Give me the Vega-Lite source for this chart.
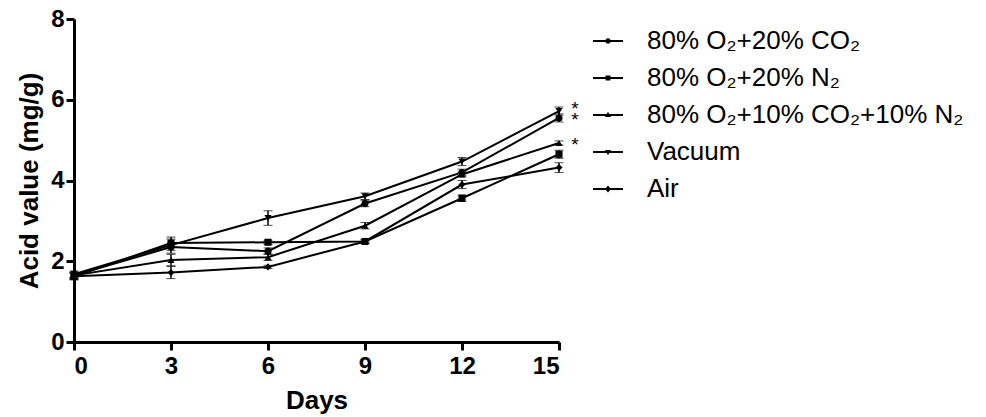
{
  "$schema": "https://vega.github.io/schema/vega-lite/v6.json",
  "autosize": "none",
  "width": 485,
  "height": 323,
  "padding": {"left": 74, "top": 19, "right": 427, "bottom": 75},
  "background": "white",
  "config": {
    "font": "Liberation Sans",
    "view": {"stroke": null},
    "axis": {
      "grid": false,
      "domainColor": "black",
      "domainWidth": 3,
      "tickColor": "black",
      "tickWidth": 3,
      "tickSize": 8,
      "labelColor": "black",
      "labelFont": "Liberation Sans",
      "labelFontWeight": "bold",
      "labelFontSize": 24,
      "titleColor": "black",
      "titleFont": "Liberation Sans",
      "titleFontWeight": "bold",
      "titleFontSize": 26
    }
  },
  "datasets": {
    "acid": [
      {"group": "80% O₂+20% CO₂", "day": 0, "value": 1.65, "err": 0.08},
      {"group": "80% O₂+20% CO₂", "day": 3, "value": 2.35, "err": 0.08},
      {"group": "80% O₂+20% CO₂", "day": 6, "value": 2.25, "err": 0.08},
      {"group": "80% O₂+20% CO₂", "day": 9, "value": 3.43, "err": 0.08},
      {"group": "80% O₂+20% CO₂", "day": 12, "value": 4.2, "err": 0.08},
      {"group": "80% O₂+20% CO₂", "day": 15, "value": 5.55, "err": 0.1},
      {"group": "80% O₂+20% N₂", "day": 0, "value": 1.62, "err": 0.08},
      {"group": "80% O₂+20% N₂", "day": 3, "value": 2.45, "err": 0.1},
      {"group": "80% O₂+20% N₂", "day": 6, "value": 2.47, "err": 0.05},
      {"group": "80% O₂+20% N₂", "day": 9, "value": 2.49, "err": 0.04},
      {"group": "80% O₂+20% N₂", "day": 12, "value": 3.56, "err": 0.08},
      {"group": "80% O₂+20% N₂", "day": 15, "value": 4.65, "err": 0.1},
      {"group": "80% O₂+10% CO₂+10% N₂", "day": 0, "value": 1.65, "err": 0.06},
      {"group": "80% O₂+10% CO₂+10% N₂", "day": 3, "value": 2.03, "err": 0.14},
      {"group": "80% O₂+10% CO₂+10% N₂", "day": 6, "value": 2.1, "err": 0.08},
      {"group": "80% O₂+10% CO₂+10% N₂", "day": 9, "value": 2.88, "err": 0.08},
      {"group": "80% O₂+10% CO₂+10% N₂", "day": 12, "value": 4.15, "err": 0.06},
      {"group": "80% O₂+10% CO₂+10% N₂", "day": 15, "value": 4.93, "err": 0.05},
      {"group": "Vacuum", "day": 0, "value": 1.68, "err": 0.08},
      {"group": "Vacuum", "day": 3, "value": 2.4, "err": 0.2},
      {"group": "Vacuum", "day": 6, "value": 3.07, "err": 0.18},
      {"group": "Vacuum", "day": 9, "value": 3.61, "err": 0.08},
      {"group": "Vacuum", "day": 12, "value": 4.47, "err": 0.1},
      {"group": "Vacuum", "day": 15, "value": 5.72, "err": 0.1},
      {"group": "Air", "day": 0, "value": 1.63, "err": 0.08},
      {"group": "Air", "day": 3, "value": 1.72, "err": 0.15},
      {"group": "Air", "day": 6, "value": 1.86, "err": 0.04},
      {"group": "Air", "day": 9, "value": 2.49, "err": 0.04},
      {"group": "Air", "day": 12, "value": 3.9, "err": 0.1},
      {"group": "Air", "day": 15, "value": 4.32, "err": 0.12}
    ],
    "stars": [
      {"day": 15, "value": 5.84, "label": "*"},
      {"day": 15, "value": 5.57, "label": "*"},
      {"day": 15, "value": 4.95, "label": "*"}
    ]
  },
  "data": {"name": "acid"},
  "encoding": {
    "x": {
      "field": "day", "type": "quantitative",
      "scale": {"domain": [0, 15], "nice": false, "zero": false},
      "axis": {"values": [0, 3, 6, 9, 12, 15], "title": "Days", "labelPadding": 4, "titlePadding": 9}
    }
  },
  "layer": [
    {
      "mark": {"type": "errorbar", "color": "black", "ticks": {"size": 9, "strokeWidth": 1.5, "color": "black"}, "rule": {"strokeWidth": 1.5, "color": "black"}},
      "encoding": {
        "y": {"field": "value", "type": "quantitative", "scale": {"domain": [0, 8], "nice": false},
              "axis": {"values": [0, 2, 4, 6, 8], "title": "Acid value (mg/g)", "labelPadding": 2, "titlePadding": 8}},
        "yError": {"field": "err"},
        "detail": {"field": "group"}
      }
    },
    {
      "mark": {"type": "line", "color": "black", "strokeWidth": 2},
      "encoding": {
        "y": {"field": "value", "type": "quantitative"},
        "detail": {"field": "group"}
      }
    },
    {
      "mark": {"type": "point", "filled": true, "color": "black", "opacity": 1, "size": 50},
      "encoding": {
        "y": {"field": "value", "type": "quantitative"},
        "shape": {
          "field": "group", "type": "nominal",
          "scale": {"domain": ["80% O₂+20% CO₂", "80% O₂+20% N₂", "80% O₂+10% CO₂+10% N₂", "Vacuum", "Air"],
                    "range": ["circle", "square", "triangle-up", "triangle-down", "diamond"]},
          "legend": null
        }
      }
    },
    {
      "mark": {"type": "point", "filled": true, "color": "black", "opacity": 0},
      "encoding": {
        "y": {"field": "value", "type": "quantitative"},
        "shape": {
          "field": "group", "type": "nominal",
          "scale": {"domain": ["80% O₂+20% CO₂", "80% O₂+20% N₂", "80% O₂+10% CO₂+10% N₂", "Vacuum", "Air"],
                    "range": [
                      "M-1,-0.06H1V0.06H-1ZM0.18,0A0.18,0.18,0,1,1,-0.18,0A0.18,0.18,0,1,1,0.18,0Z",
                      "M-1,-0.06H1V0.06H-1ZM-0.16,-0.16H0.16V0.16H-0.16Z",
                      "M-1,-0.06H1V0.06H-1ZM0,-0.22L0.2,0.14H-0.2Z",
                      "M-1,-0.06H1V0.06H-1ZM0,0.22L-0.2,-0.14H0.2Z",
                      "M-1,-0.06H1V0.06H-1ZM0,-0.24L0.2,0L0,0.24L-0.2,0Z"
                    ]},
          "legend": {
            "title": null,
            "orient": "none",
            "legendX": 519,
            "legendY": 7,
            "padding": 0,
            "symbolSize": 900,
            "symbolStrokeWidth": 0,
            "symbolFillColor": "black",
            "symbolOpacity": 1,
            "labelFont": "Liberation Sans",
            "labelFontSize": 26,
            "labelColor": "black",
            "labelOffset": 24,
            "rowPadding": 9,
            "labelLimit": 500,
            "encode": {"symbols": {"update": {"opacity": {"value": 1}, "fill": {"value": "black"}, "strokeWidth": {"value": 0}}}}
          }
        }
      }
    },
    {
      "data": {"name": "stars"},
      "mark": {"type": "text", "color": "black", "fontSize": 19, "dx": 16, "dy": 3, "baseline": "middle", "font": "Liberation Sans"},
      "encoding": {
        "y": {"field": "value", "type": "quantitative"},
        "text": {"field": "label"}
      }
    }
  ],
  "resolve": {"scale": {"shape": "independent"}, "legend": {"shape": "independent"}}
}
